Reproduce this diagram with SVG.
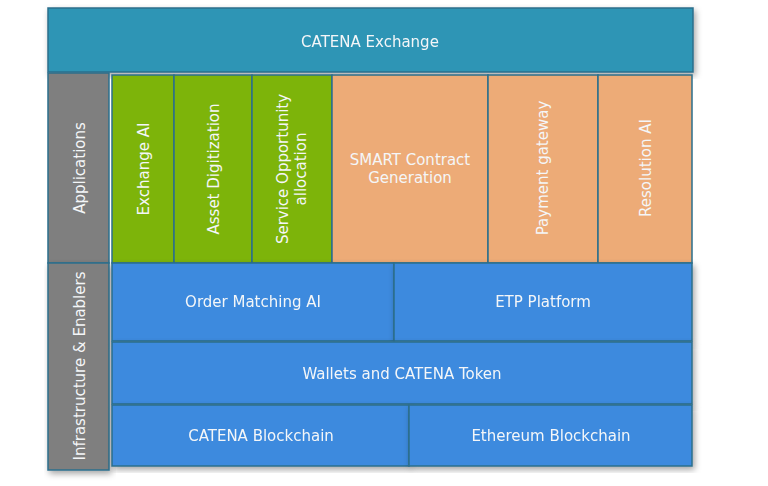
<svg xmlns="http://www.w3.org/2000/svg" width="768" height="486" viewBox="0 0 768 486">
<style>
.b{stroke:#2B6F8C;stroke-width:1.5}
.top{fill:#2E95B5}
.gray{fill:#7F7F7F}
.green{fill:#7DB40A}
.orange{fill:#EDAB77}
.blue{fill:#3C8ADE}
text{font-family:"DejaVu Sans","Liberation Sans",sans-serif;font-size:15px;fill:#F4F6F8;text-anchor:middle;dominant-baseline:central}
</style>
<defs>
<filter id="sh" x="-5%" y="-5%" width="115%" height="115%">
<feDropShadow dx="2" dy="3" stdDeviation="3" flood-color="#000" flood-opacity="0.35"/>
</filter>
</defs>
<rect x="0" y="0" width="768" height="486" fill="#FFFFFF"/>
<g id="catena-exchange" filter="url(#sh)">
<rect class="top b" x="48" y="8" width="645" height="64"/>
<text x="370" y="42">CATENA Exchange</text>
</g>
<g id="applications">
<rect class="gray b" x="48" y="73" width="61" height="190"/>
<text transform="translate(80,168) rotate(-90)">Applications</text>
</g>
<g id="infrastructure">
<rect class="gray b" x="48" y="263" width="61" height="207" filter="url(#sh)"/>
<text transform="translate(80,366) rotate(-90)">Infrastructure &amp; Enablers</text>
</g>
<g id="exchange-ai">
<rect class="green b" x="112" y="75" width="62" height="188"/>
<text transform="translate(144,169) rotate(-90)">Exchange AI</text>
</g>
<g id="asset-digitization">
<rect class="green b" x="174" y="75" width="78" height="188"/>
<text transform="translate(214,169) rotate(-90)">Asset Digitization</text>
</g>
<g id="service-opportunity">
<rect class="green b" x="252" y="75" width="80" height="188"/>
<text transform="translate(292,169) rotate(-90)"><tspan x="0" y="-9">Service Opportunity</tspan><tspan x="0" y="9">allocation</tspan></text>
</g>
<g id="smart-contract">
<rect class="orange b" x="332" y="75" width="156" height="188"/>
<text x="410" y="160">SMART Contract</text>
<text x="410" y="178">Generation</text>
</g>
<g id="payment-gateway">
<rect class="orange b" x="488" y="75" width="110" height="188"/>
<text transform="translate(543,168) rotate(-90)">Payment gateway</text>
</g>
<g id="resolution-ai">
<rect class="orange b" x="598" y="75" width="94" height="188"/>
<text transform="translate(646,168) rotate(-90)">Resolution AI</text>
</g>
<g id="order-matching" filter="url(#sh)">
<rect class="blue b" x="112" y="263" width="282" height="78"/>
<text x="253" y="302">Order Matching AI</text>
</g>
<g id="etp-platform" filter="url(#sh)">
<rect class="blue b" x="394" y="263" width="298" height="78"/>
<text x="543" y="302">ETP Platform</text>
</g>
<g id="wallets" filter="url(#sh)">
<rect class="blue b" x="112" y="342" width="580" height="62"/>
<text x="402" y="374">Wallets and CATENA Token</text>
</g>
<g id="catena-blockchain" filter="url(#sh)">
<rect class="blue b" x="112" y="405" width="297" height="61"/>
<text x="261" y="436">CATENA Blockchain</text>
</g>
<g id="ethereum-blockchain" filter="url(#sh)">
<rect class="blue b" x="409" y="405" width="283" height="61"/>
<text x="551" y="436">Ethereum Blockchain</text>
</g>
<g id="connectors"/>
</svg>
